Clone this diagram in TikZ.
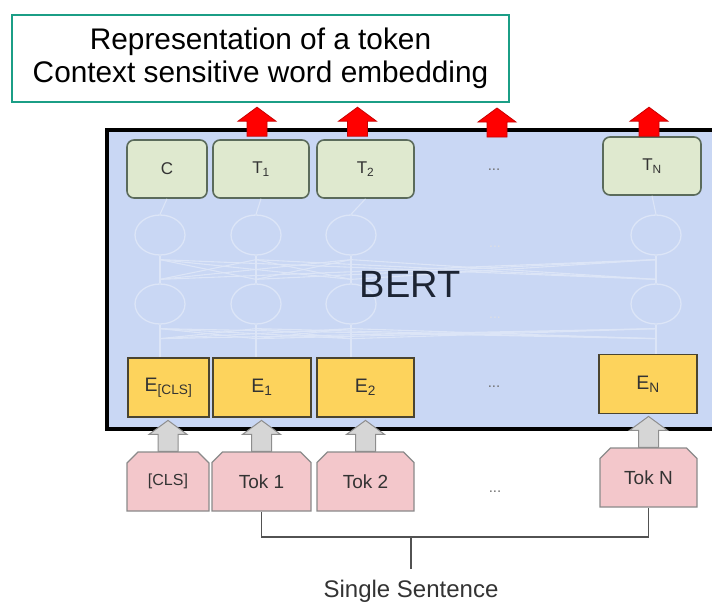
\documentclass[tikz,border=0pt]{standalone}
\usepackage{fontspec}
\setmainfont{Liberation Sans}
\usetikzlibrary{shapes.geometric,shapes.misc,calc}

\definecolor{tealframe}{HTML}{1B9E86}
\definecolor{bertbg}{HTML}{C9D7F4}
\definecolor{netline}{HTML}{DCE5F7}
\definecolor{greenfill}{HTML}{DFE9CF}
\definecolor{greenedge}{HTML}{5B6B5B}
\definecolor{yellowfill}{HTML}{FDD35C}
\definecolor{yellowedge}{HTML}{4A4430}
\definecolor{pinkfill}{HTML}{F3C7CB}
\definecolor{pinkedge}{HTML}{8A8A8A}
\definecolor{redfill}{HTML}{FF0000}
\definecolor{rededge}{HTML}{C80000}
\definecolor{grayfill}{HTML}{D6D6D6}
\definecolor{grayedge}{HTML}{8E8E8E}
\definecolor{labeltext}{HTML}{333333}
\definecolor{berttext}{HTML}{1C2433}

\tikzset{
  outbox/.style={draw=greenedge, fill=greenfill, line width=1.6pt, rounded corners=7pt,
    minimum height=58pt, inner sep=0pt, text=labeltext, font=\fontsize{17}{20}\selectfont},
  embbox/.style={draw=yellowedge, fill=yellowfill, line width=1.4pt,
    minimum height=59pt, inner sep=0pt, text=labeltext, font=\fontsize{19.5}{22}\selectfont},
  tokbox/.style={chamfered rectangle, chamfered rectangle corners={north west,north east},
    chamfered rectangle xsep=9pt, chamfered rectangle angle=45,
    draw=pinkedge, fill=pinkfill, line width=1.2pt,
    minimum height=59pt, inner sep=0pt, text=labeltext, font=\fontsize{19}{22}\selectfont},
  cell/.style={ellipse, draw=netline, line width=1.3pt, minimum width=50pt, minimum height=40pt, inner sep=0pt},
  net/.style={draw=netline, line width=1.1pt},
  dotlabel/.style={text=labeltext!70, font=\fontsize{15}{18}\selectfont, inner sep=0pt},
  faintdots/.style={text=netline!70!labeltext!40, font=\fontsize{14}{16}\selectfont, inner sep=0pt},
  bracket/.style={draw=labeltext!85, line width=1.2pt},
  redup/.pic={\path[fill=redfill, draw=rededge, line width=0.8pt]
      (-10,0) -- (-10,-15) -- (-19,-15) -- (0,-29) -- (19,-15) -- (10,-15) -- (10,0) -- cycle;},
  grayup/.pic={\path[fill=grayfill, draw=grayedge, line width=1pt]
      (-10,0) -- (-10,-17) -- (-19,-17) -- (0,-31) -- (19,-17) -- (10,-17) -- (10,0) -- cycle;},
}

\begin{document}
\begin{tikzpicture}[x=1pt,y=-1pt]
\useasboundingbox (0,0) rectangle (712,603);
\clip (0,0) rectangle (712,603);

% caption box
\node[draw=tealframe, line width=2.6pt, minimum width=497pt, minimum height=87pt,
      align=center, inner sep=0pt, font=\fontsize{29.8}{33}\selectfont, text=black]
  (caption) at (260.5,58.5) {Representation of a token\\Context sensitive word embedding};

% BERT encoder block
\path[fill=bertbg] (107,130) rectangle (720,429);
\draw[line width=4pt] (720,130) -- (107,130) -- (107,429) -- (720,429);

% hidden layer cells
\node[cell] (a1) at (160,235) {};
\node[cell] (a2) at (256,235) {};
\node[cell] (a3) at (351,235) {};
\node[cell] (a4) at (656,235) {};
\node[cell] (b1) at (160,304) {};
\node[cell] (b2) at (256,304) {};
\node[cell] (b3) at (351,304) {};
\node[cell] (b4) at (656,304) {};
\node[faintdots] (adots) at (495,247) {...};
\node[faintdots] (bdots) at (495,318) {...};

% output and embedding boxes
\node[outbox, minimum width=80pt] (c)  at (167,169) {C};
\node[outbox, minimum width=96pt] (t1) at (261,169) {T\textsubscript{1}};
\node[outbox, minimum width=97pt] (t2) at (365.5,169) {T\textsubscript{2}};
\node[outbox, minimum width=98pt] (tn) at (652,166) {T\textsubscript{N}};
\node[dotlabel] (tdots) at (494,170) {...};

\node[embbox, minimum width=81pt] (ecls) at (168.5,387.5) {E\textsubscript{[CLS]}};
\node[embbox, minimum width=98pt] (e1)   at (262,387.5) {E\textsubscript{1}};
\node[embbox, minimum width=97pt] (e2)   at (365.5,387.5) {E\textsubscript{2}};
\node[embbox, minimum width=98pt] (en)   at (648,384) {E\textsubscript{N}};
\node[dotlabel] (edots) at (494,387) {...};

% connections inside the encoder
\foreach \col in {1,2,3,4}{
  \foreach \row in {1,2,3,4}{
    \ifnum\col=\row\else
      \draw[net] ([yshift=-4pt]a\col.south) -- ([yshift=4pt]b\row.north);
      \draw[net] ([yshift=-4pt]b\col.south) -- ([yshift=-14pt]b\row.south);
    \fi
  }
}
\draw[net] (c.south) -- (a1.north);
\draw[net] (t1.south) -- (a2.north);
\draw[net] (t2.south) -- (a3.north);
\draw[net] (tn.south) -- (a4.north);
\foreach \k in {1,2,3,4}{
  \draw[net] (a\k.south) -- (b\k.north);
}
\draw[net] (b1.south) -- (b1.south |- ecls.north);
\draw[net] (b2.south) -- (b2.south |- e1.north);
\draw[net] (b3.south) -- (b3.south |- e2.north);
\draw[net] (b4.south) -- (b4.south |- en.north);

\node[text=berttext, font=\fontsize{38}{40}\selectfont, inner sep=0pt] (bert) at (410,284) {BERT};

% input tokens
\node[tokbox, minimum width=82pt, font=\fontsize{16}{18}\selectfont] (tcls) at (168,481.5) {[CLS]};
\node[tokbox, minimum width=99pt] (tok1) at (261.5,481.5) {Tok 1};
\node[tokbox, minimum width=97pt] (tok2) at (365.5,481.5) {Tok 2};
\node[tokbox, minimum width=97pt] (tokn) at (648.5,477.5) {Tok N};
\node[dotlabel] (tokdots) at (495,492) {...};

% token to embedding arrows
\pic at (tcls.north) {grayup};
\pic at (tok1.north) {grayup};
\pic at (tok2.north) {grayup};
\pic at (tokn.north) {grayup};

% outputs leaving the encoder
\pic at ([yshift=3pt,xshift=-4pt]t1.north) {redup};
\pic at ([yshift=3pt,xshift=-8pt]t2.north) {redup};
\pic at ([yshift=33pt,xshift=3pt]tdots.center) {redup};
\pic at ([yshift=0pt,xshift=-3pt]tn.north) {redup};

% sentence bracket
\coordinate (brk) at (411,537);
\node[text=labeltext, font=\fontsize{24}{27}\selectfont, inner sep=0pt] (sent) at (411,591) {Single Sentence};
\draw[bracket] (tok1.south) |- (brk) -| (tokn.south);
\draw[bracket] (brk) -- ([yshift=11pt]sent.north);
\end{tikzpicture}
\end{document}
